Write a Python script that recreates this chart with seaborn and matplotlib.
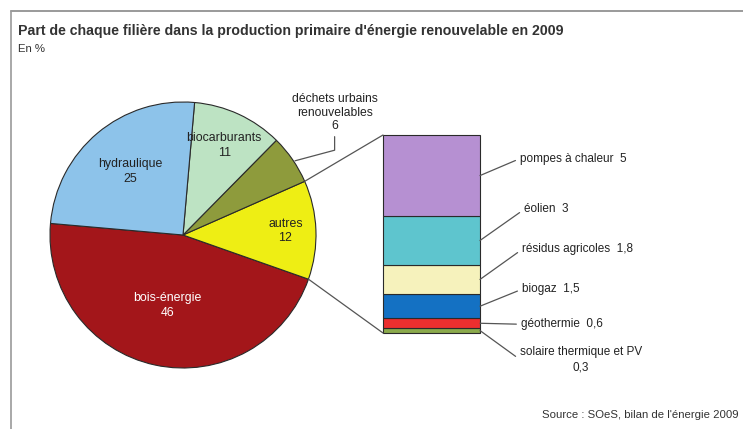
import numpy as np
import pandas as pd
import matplotlib
matplotlib.use("Agg")
import matplotlib.pyplot as plt
from matplotlib.patches import ConnectionPatch
from matplotlib.lines import Line2D
import seaborn as sns

# ---------------- data ----------------
pie_labels = ["bois-énergie", "autres", "déchets urbains\nrenouvelables", "biocarburants", "hydraulique"]
pie_values = [46, 12, 6, 11, 25]
pie_value_text = ["46", "12", "6", "11", "25"]

bar_labels = ["solaire thermique et PV", "géothermie", "biogaz", "résidus agricoles", "éolien", "pompes à chaleur"]
bar_values = [0.3, 0.6, 1.5, 1.8, 3, 5]
bar_value_text = ["0,3", "0,6", "1,5", "1,8", "3", "5"]

title = "Part de chaque filière dans la production primaire d'énergie renouvelable en 2009"
subtitle = "En %"
source = "Source : SOeS, bilan de l'énergie 2009"

# ---------------- style ----------------
pie_colors = ["#A3161A", "#EEEE14", "#8E9B3C", "#BDE3C3", "#8DC3EA"]
bar_colors = ["#8BAA4C", "#EC2F2F", "#1471C3", "#F6F2BC", "#5EC5CE", "#B690D2"]
edge = "#2a2a2a"
txt = "#222222"

sns.set_theme(style="white")
plt.rcParams["font.family"] = ["Liberation Sans", "DejaVu Sans"]

W, H = 743, 429
fig = plt.figure(figsize=(W / 100, H / 100), dpi=100)
fig.patch.set_facecolor("white")


def px_rect(x0, y0, w, h):
    return [x0 / W, 1 - (y0 + h) / H, w / W, h / H]


def fx(x):
    return x / W


def fy(y):
    return 1 - y / H


# frame lines (top and left)
fig.add_artist(Line2D([fx(11), fx(W)], [fy(11), fy(11)], color="#9a9a9a", lw=1.4, transform=fig.transFigure))
fig.add_artist(Line2D([fx(11), fx(11)], [fy(11), fy(H)], color="#9a9a9a", lw=1.2, transform=fig.transFigure))

# titles
fig.text(fx(18), fy(31), title, fontsize=10.2, fontweight="bold", color="#333333", va="center", ha="left")
fig.text(fx(18), fy(49), subtitle, fontsize=8.2, color="#333333", va="center", ha="left")
fig.text(fx(739), fy(415), source, fontsize=8.2, color="#333333", va="center", ha="right")

# ---------------- pie ----------------
R = 133
cx, cy = 183, 235
ax_pie = fig.add_axes(px_rect(cx - R, cy - R, 2 * R, 2 * R))
wedges, _ = ax_pie.pie(
    pie_values, colors=pie_colors, startangle=175, counterclock=True,
    wedgeprops=dict(edgecolor=edge, linewidth=0.8), radius=1,
)
for w in wedges:
    w.set_clip_on(False)
ax_pie.set_xlim(-1, 1)
ax_pie.set_ylim(-1, 1)
ax_pie.axis("off")

label_r = [0.54, 0.77, None, 0.74, 0.62]
label_col = ["white", txt, txt, txt, txt]
for i, wdg in enumerate(wedges):
    mid = np.deg2rad((wdg.theta1 + wdg.theta2) / 2)
    lab = pie_labels[i] + "\n" + pie_value_text[i]
    if label_r[i] is not None:
        ax_pie.text(label_r[i] * np.cos(mid), label_r[i] * np.sin(mid), lab,
                    ha="center", va="center", fontsize=8.9, color=label_col[i],
                    linespacing=1.3)
    else:
        ang = np.deg2rad(wdg.theta1 + 0.45 * (wdg.theta2 - wdg.theta1))
        ax_pie.annotate(
            lab, xy=(1.01 * np.cos(ang), 1.01 * np.sin(ang)),
            xytext=(1.14, 0.92), textcoords="data",
            ha="center", va="center", fontsize=8.7, color=txt, linespacing=1.15,
            annotation_clip=False,
            arrowprops=dict(arrowstyle="-", color="#555555", lw=0.9, shrinkA=1, shrinkB=0,
                            relpos=(0.5, 0.0),
                            connectionstyle="angle,angleA=-90,angleB=15,rad=0"),
        )

# ---------------- stacked bar ----------------
bx, by, bw, bh = 383, 135, 97, 198
ax_bar = fig.add_axes(px_rect(bx, by, bw, bh))
df = pd.DataFrame({"filiere": bar_labels, "valeur": bar_values})
df["bas"] = df["valeur"].cumsum() - df["valeur"]
total = df["valeur"].sum()
bars = ax_bar.bar(np.zeros(len(df)), df["valeur"], bottom=df["bas"], width=1.0,
                  color=bar_colors, edgecolor=edge, linewidth=0.8)
for b in bars:
    b.set_clip_on(False)
ax_bar.set_xlim(-0.5, 0.5)
ax_bar.set_ylim(0, total)
ax_bar.axis("off")

# label offsets in pixels (x, y up)
lab_off = [(40, -29), (41, -1), (42, 17), (42, 30), (44, 31), (40, 17)]
for i, row in df.iterrows():
    mid = row["bas"] + row["valeur"] / 2
    if i == 0:
        lab = bar_labels[i] + "\n" + bar_value_text[i]
    else:
        lab = bar_labels[i] + "  " + bar_value_text[i]
    ax_bar.annotate(
        lab, xy=(0.5, mid), xytext=lab_off[i], textcoords="offset pixels",
        ha="left", va="center", fontsize=8.5, color=txt, multialignment="center",
        linespacing=1.45, annotation_clip=False,
        arrowprops=dict(arrowstyle="-", color="#555555", lw=0.9, shrinkA=1, shrinkB=0,
                        relpos=(0.0, 0.5)),
    )

# connection lines between the "autres" wedge and the bar
autres = wedges[pie_labels.index("autres")]
t1, t2 = np.deg2rad(autres.theta1), np.deg2rad(autres.theta2)
for th, yb in [(t2, total), (t1, 0)]:
    con = ConnectionPatch(xyA=(np.cos(th), np.sin(th)), coordsA=ax_pie.transData,
                          xyB=(-0.5, yb), coordsB=ax_bar.transData,
                          color="#555555", lw=0.9)
    fig.add_artist(con)

fig.savefig("out.png", dpi=100, facecolor="white")
